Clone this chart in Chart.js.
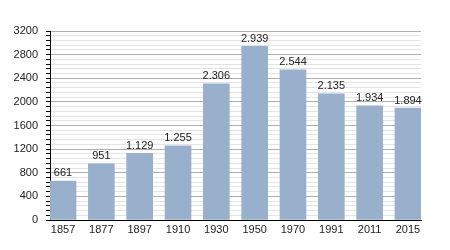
<!DOCTYPE html>
<html>
<head>
<meta charset="utf-8">
<script src="https://cdn.jsdelivr.net/npm/chart.js@4/dist/chart.umd.min.js"></script>
<style>
  html, body { margin: 0; padding: 0; background: #fff; }
  #wrap { width: 450px; height: 250px; }
</style>
</head>
<body>
<div id="wrap"><canvas id="chart" width="450" height="250"></canvas></div>
<script>
const years = ['1857', '1877', '1897', '1910', '1930', '1950', '1970', '1991', '2011', '2015']
const population = [661, 951, 1129, 1255, 2306, 2939, 2544, 2135, 1934, 1894]
const yTicks = [0, 400, 800, 1200, 1600, 2000, 2400, 2800, 3200]

const fmt = (v) => String(v).replace(/\B(?=(\d{3})+(?!\d))/g, '.')

const barLabels = {
    id: 'barLabels',
    afterDatasetsDraw(chart) {
        const ctx = chart.ctx
        const meta = chart.getDatasetMeta(0)
        ctx.save()
        ctx.font = '11px "Liberation Sans", Arial, sans-serif'
        ctx.fillStyle = '#222'
        ctx.textAlign = 'center'
        ctx.textBaseline = 'bottom'
        meta.data.forEach((bar, i) => {
            ctx.fillText(fmt(population[i]), bar.x, bar.y - 2)
        })
        ctx.restore()
    },
}

Chart.defaults.font.family = '"Liberation Sans", Arial, sans-serif'
Chart.defaults.font.size = 11
Chart.defaults.color = '#222'

new Chart(document.getElementById('chart').getContext('2d'), {
    type: 'bar',
    data: {
        datasets: [
            {
                data: population.map((v, i) => ({ x: i, y: v })),
                backgroundColor: '#98b0cb',
                borderWidth: 0,
                barThickness: 26,
            },
        ],
    },
    options: {
        responsive: false,
        animation: false,
        layout: { padding: { left: 0, right: 29, top: 31, bottom: 0 } },
        plugins: { legend: { display: false }, tooltip: { enabled: false } },
        scales: {
            x: {
                type: 'linear',
                offset: false,
                min: -0.34,
                max: years.length - 1 + 0.34,
                afterFit: (s) => { s.height = 30 },
                border: { color: '#000', width: 1 },
                grid: { drawOnChartArea: false, drawTicks: false },
                ticks: {
                    stepSize: 1,
                    includeBounds: false,
                    autoSkip: false,
                    maxRotation: 0,
                    padding: 3,
                    callback: (v) => years[v] ?? '',
                },
            },
            y: {
                min: 0,
                max: 3200,
                afterFit: (s) => { s.width = 50 },
                border: { color: '#000', width: 1 },
                grid: {
                    color: (c) => (yTicks.includes(c.tick.value) ? '#aeaeae' : '#e4e4e4'),
                    tickColor: '#000',
                    tickLength: 4,
                },
                ticks: {
                    stepSize: 80,
                    autoSkip: false,
                    padding: 8,
                    callback: (v) => (yTicks.includes(v) ? String(v) : ''),
                },
            },
        },
    },
    plugins: [barLabels],
})
</script>
</body>
</html>
